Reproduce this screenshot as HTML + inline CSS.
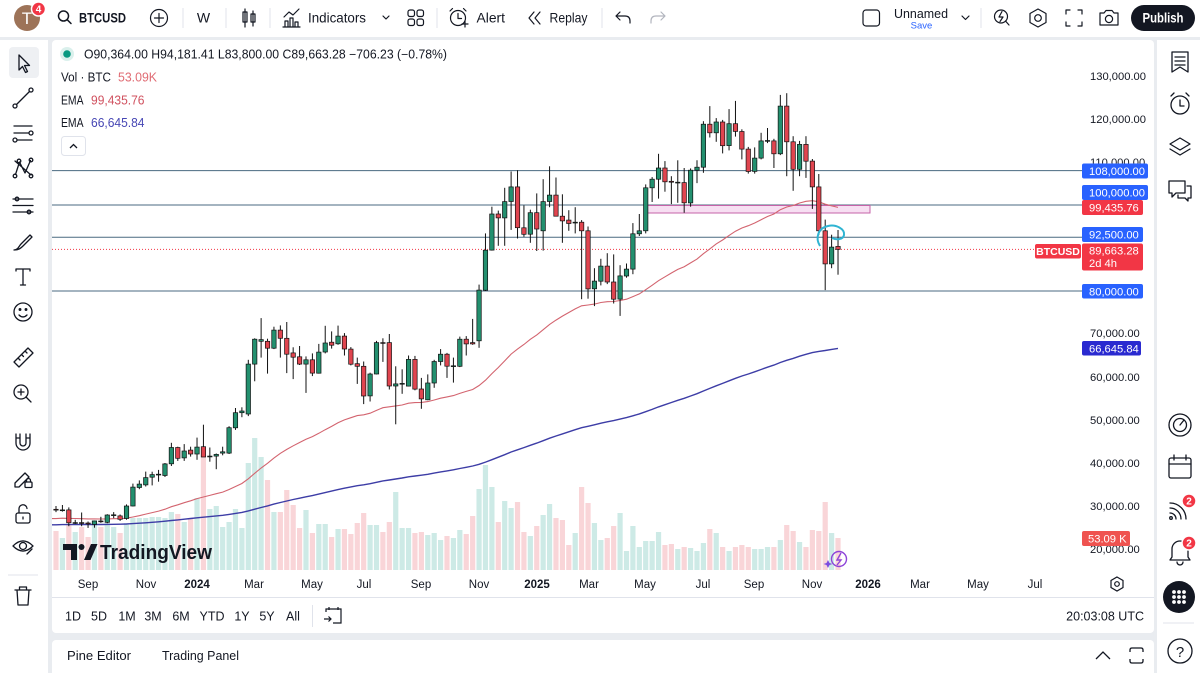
<!DOCTYPE html>
<html><head><meta charset="utf-8">
<style>
html,body{margin:0;padding:0;width:1200px;height:673px;overflow:hidden;background:#e9ecf0;}
svg{display:block;font-family:"Liberation Sans",sans-serif;}
</style></head><body>
<svg id="s" width="1200" height="673" viewBox="0 0 1200 673" xmlns="http://www.w3.org/2000/svg">
<rect width="1200" height="673" fill="#e9ecf0"/>
<rect x="0" y="0" width="1200" height="37" fill="#fff"/>
<rect x="0" y="40" width="48" height="633" fill="#fff"/>
<rect x="52" y="40" width="1102" height="593" rx="4" fill="#fff"/>
<rect x="52" y="640" width="1102" height="40" rx="4" fill="#fff"/>
<rect x="1157" y="40" width="43" height="633" fill="#fff"/>

<!-- volume -->
<g id="vol"></g>

<!-- TradingView logo -->
<g fill="#131722">
<path d="M63 544 H77 V560 H71 V550 H63 Z"/>
<circle cx="81.5" cy="547" r="3"/>
<path d="M84 560 L91 544 H97.5 L90.5 560 Z"/>
<text x="100" y="559" font-size="20" font-weight="bold" textLength="112" lengthAdjust="spacingAndGlyphs">TradingView</text>
</g>

<!-- horizontal levels -->
<g stroke="#4a6a80" stroke-width="1">
<line x1="52" y1="170.6" x2="1082" y2="170.6"/>
<line x1="52" y1="205" x2="1082" y2="205"/>
<line x1="52" y1="237.3" x2="1082" y2="237.3"/>
<line x1="52" y1="291" x2="1082" y2="291"/>
</g>
<rect x="647.5" y="205.5" width="222.5" height="7.5" fill="rgba(225,140,210,0.28)" stroke="#c663a8" stroke-width="1"/>
<line x1="52" y1="249.4" x2="1035" y2="249.4" stroke="#f23645" stroke-width="1" stroke-dasharray="1,2"/>

<!-- EMA -->
<path id="e200" fill="none" stroke="#3d3da6" stroke-width="1.4"/>
<path id="e50" fill="none" stroke="#d3646f" stroke-width="1.1"/>

<!-- candles -->
<g id="wk" stroke="#111" stroke-width="1"></g>
<g id="bd" stroke="#111" stroke-width="0.7"></g>

<!-- cyan drawing -->
<path d="M820 246 C815 238 818 228 828 226 C836 224 845 229 844 235 C843 240 836 240 832 238" fill="none" stroke="#2fb4d2" stroke-width="2"/>

<!-- purple lightning -->
<g fill="none" stroke="#8e44d8" stroke-width="1.4">
<circle cx="839" cy="559" r="7.5"/>
<path d="M841 553 L837 560 H841 L837 565" />
</g>
<path d="M828 560 L829.5 563 L832.5 564 L829.5 565 L828 568 L826.5 565 L823.5 564 L826.5 563 Z" fill="#7c4de0"/>

<!-- legend -->
<circle cx="67" cy="54" r="7" fill="rgba(8,153,129,0.15)"/>
<circle cx="67" cy="54" r="3.8" fill="#089981"/>
<text x="84" y="58.5" font-size="12.5" fill="#131722" textLength="363" lengthAdjust="spacingAndGlyphs">O90,364.00 H94,181.41 L83,800.00 C89,663.28 −706.23 (−0.78%)</text>
<text x="61" y="81.5" font-size="12.5" fill="#131722" textLength="50" lengthAdjust="spacingAndGlyphs">Vol · BTC</text>
<text x="118" y="81.5" font-size="12.5" fill="#e06c74" textLength="39" lengthAdjust="spacingAndGlyphs">53.09K</text>
<text x="61" y="104.5" font-size="12.5" fill="#131722" textLength="22.5" lengthAdjust="spacingAndGlyphs">EMA</text>
<text x="91" y="104.5" font-size="12.5" fill="#d0505e" textLength="53.5" lengthAdjust="spacingAndGlyphs">99,435.76</text>
<text x="61" y="127" font-size="12.5" fill="#131722" textLength="22.5" lengthAdjust="spacingAndGlyphs">EMA</text>
<text x="91" y="127" font-size="12.5" fill="#4646b4" textLength="53.5" lengthAdjust="spacingAndGlyphs">66,645.84</text>
<rect x="61.5" y="136.5" width="24" height="19" rx="3" fill="#fff" stroke="#e0e3eb"/>
<path d="M70 148 L73.5 144.5 L77 148" fill="none" stroke="#131722" stroke-width="1.3"/>

<!-- price axis -->
<g font-size="11.2" fill="#131722">
<text x="1090" y="80">130,000.00</text>
<text x="1090" y="123">120,000.00</text>
<text x="1090" y="166">110,000.00</text>
<text x="1090" y="337">70,000.00</text>
<text x="1090" y="381">60,000.00</text>
<text x="1090" y="424">50,000.00</text>
<text x="1090" y="467">40,000.00</text>
<text x="1090" y="510">30,000.00</text>
<text x="1090" y="553">20,000.00</text>
</g>
<g font-size="11.2" fill="#fff">
<rect x="1082" y="163.5" width="66" height="15" rx="2" fill="#2962ff"/><text x="1089" y="175">108,000.00</text>
<rect x="1082" y="185" width="66" height="15" rx="2" fill="#2962ff"/><text x="1089" y="196.5">100,000.00</text>
<rect x="1082" y="200" width="61" height="15" rx="2" fill="#f23645"/><text x="1089" y="211.5">99,435.76</text>
<rect x="1082" y="227" width="61" height="15" rx="2" fill="#2962ff"/><text x="1089" y="238.5">92,500.00</text>
<rect x="1082" y="243.5" width="61" height="27" rx="2" fill="#f23645"/><text x="1089" y="254.5">89,663.28</text><text x="1089" y="267">2d 4h</text>
<rect x="1082" y="284" width="61" height="14.5" rx="2" fill="#2962ff"/><text x="1089" y="295.5">80,000.00</text>
<rect x="1082" y="341" width="59" height="14.5" rx="2" fill="#2a2ad0"/><text x="1089" y="352.5">66,645.84</text>
<rect x="1082" y="531" width="48" height="15" rx="2" fill="#ef5350"/><text x="1088" y="542.5">53.09 K</text>
<rect x="1035" y="244" width="46" height="14.5" rx="2" fill="#f23645"/><text x="1058" y="255" text-anchor="middle" font-size="10.5" font-weight="bold">BTCUSD</text>
</g>

<!-- time axis -->
<g font-size="11.5" fill="#131722" text-anchor="middle">
<text x="88" y="588">Sep</text><text x="146" y="588">Nov</text><text x="197" y="588" font-weight="bold">2024</text>
<text x="254" y="588">Mar</text><text x="312" y="588">May</text><text x="364" y="588">Jul</text>
<text x="421" y="588">Sep</text><text x="479" y="588">Nov</text><text x="537" y="588" font-weight="bold">2025</text>
<text x="589" y="588">Mar</text><text x="645" y="588">May</text><text x="703" y="588">Jul</text>
<text x="754" y="588">Sep</text><text x="812" y="588">Nov</text><text x="868" y="588" font-weight="bold">2026</text>
<text x="920" y="588">Mar</text><text x="978" y="588">May</text><text x="1035" y="588">Jul</text>
</g>
<g fill="none" stroke="#131722" stroke-width="1.2">
<path d="M1117 577 L1123 580.5 V587.5 L1117 591 L1111 587.5 V580.5 Z"/><circle cx="1117" cy="584" r="2.3"/>
</g>
<line x1="52" y1="597.5" x2="1154" y2="597.5" stroke="#e0e3eb"/>

<!-- range bar -->
<g font-size="12.5" fill="#131722" text-anchor="middle">
<text x="73" y="620.5">1D</text><text x="99" y="620.5">5D</text><text x="127" y="620.5">1M</text><text x="153" y="620.5">3M</text>
<text x="181" y="620.5">6M</text><text x="212" y="620.5">YTD</text><text x="242" y="620.5">1Y</text><text x="267" y="620.5">5Y</text><text x="293" y="620.5">All</text>
</g>
<line x1="312.5" y1="605" x2="312.5" y2="627" stroke="#e0e3eb"/>
<g fill="none" stroke="#131722" stroke-width="1.2">
<path d="M326 612 V609 H341 V623 H333 M329 607 V610 M338 607 V610 M324 619 H331 M328.5 616.5 L331 619 L328.5 621.5"/>
</g>
<text x="1144" y="620.5" font-size="12.5" fill="#131722" text-anchor="end">20:03:08 UTC</text>

<!-- pine bar -->
<text x="67" y="660" font-size="13" fill="#131722" textLength="64" lengthAdjust="spacingAndGlyphs">Pine Editor</text>
<text x="162" y="660" font-size="13" fill="#131722" textLength="77" lengthAdjust="spacingAndGlyphs">Trading Panel</text>
<g fill="none" stroke="#131722" stroke-width="1.3">
<path d="M1096 659 L1103 652 L1110 659"/>
<path d="M1130 652 V650 Q1130 648 1132 648 H1141 Q1143 648 1143 650 V652 M1130 659 V661 Q1130 663 1132 663 H1141 Q1143 663 1143 661 V659"/>
</g>

<!-- top bar -->
<circle cx="27" cy="18" r="13" fill="#9d7358"/>
<text x="27" y="24" font-size="17" fill="#fff" text-anchor="middle">T</text>
<circle cx="38.5" cy="9" r="7" fill="#f23645" stroke="#fff" stroke-width="1.5"/>
<text x="38.5" y="12.5" font-size="10" font-weight="bold" fill="#fff" text-anchor="middle">4</text>
<g fill="none" stroke="#131722" stroke-width="1.5" stroke-linecap="round" stroke-linejoin="round">
<circle cx="63.5" cy="16" r="5"/><path d="M67.3 19.8 L71 23.5"/>
<circle cx="159" cy="18" r="8.5" stroke-width="1.2"/><path d="M159 13.5 V22.5 M154.5 18 H163.5" stroke-width="1.2"/>
<path d="M245 9 V27 M253 11 V26" stroke-width="1.2"/>
<rect x="243" y="12" width="4" height="10" stroke-width="1.2"/><rect x="251" y="14" width="4" height="8" stroke-width="1.2"/>
<path d="M284 17 L289 12 L293 15 L299 9" stroke-width="1.2"/>
<path d="M285 27 V21 H288 V27 M290 27 V18 H293 V27 M295 27 V22 H298 V27 M283 27 H300" stroke-width="1.2"/>
<path d="M383 16 L386 19 L389 16" stroke-width="1.2"/>
<rect x="408" y="10" width="6.5" height="6.5" rx="2" stroke-width="1.2"/><rect x="417" y="10" width="6.5" height="6.5" rx="2" stroke-width="1.2"/>
<rect x="408" y="19" width="6.5" height="6.5" rx="2" stroke-width="1.2"/><rect x="417" y="19" width="6.5" height="6.5" rx="2" stroke-width="1.2"/>
<circle cx="458" cy="18" r="7.5" stroke-width="1.2"/><path d="M458 13.5 V18.5 H461.5 M450 11 L452.5 8.5 M466 11 L463.5 8.5 M462 24 H468 M465 21 V27" stroke-width="1.2"/>
<path d="M534 12 L529 18 L534 24 M540 12 L535 18 L540 24" stroke-width="1.2"/>
<path d="M620 12 L616 16 L620 20 M616 16 H625 Q630 16 630 21 V23" stroke-width="1.2"/>
<path d="M661 12 L665 16 L661 20 M665 16 H656 Q651 16 651 21 V23" stroke="#b2b5be" stroke-width="1.2"/>
<rect x="863" y="10" width="16.5" height="16" rx="3" stroke-width="1.2"/>
<path d="M962 16 L965.5 19.5 L969 16" stroke-width="1.2"/>
<circle cx="1001" cy="16.5" r="6.5" stroke-width="1.2"/><path d="M1005.5 21 L1009 25 M1002 11.5 L999 17 H1003 L1000 21.5" stroke-width="1.2"/>
<path d="M1038 9 L1046 13.5 V22.5 L1038 27 L1030 22.5 V13.5 Z" stroke-width="1.2"/><circle cx="1038" cy="18" r="3.3" stroke-width="1.2"/>
<path d="M1066 14 V10 H1070 M1078 10 H1082 V14 M1082 22 V26 H1078 M1070 26 H1066 V22" stroke-width="1.2"/>
<path d="M1100 13 H1104 L1106 10.5 H1112 L1114 13 H1118 V25 H1100 Z" stroke-width="1.2"/><circle cx="1109" cy="19" r="3.6" stroke-width="1.2"/>
</g>
<g stroke="#e0e3eb"><line x1="183" y1="8" x2="183" y2="28"/><line x1="226" y1="8" x2="226" y2="28"/><line x1="270" y1="8" x2="270" y2="28"/><line x1="437" y1="8" x2="437" y2="28"/><line x1="602" y1="8" x2="602" y2="28"/><line x1="981" y1="8" x2="981" y2="28"/></g>
<text x="79" y="22.5" font-size="14" font-weight="bold" fill="#131722" textLength="47" lengthAdjust="spacingAndGlyphs">BTCUSD</text>
<text x="203.5" y="22.5" font-size="14" fill="#131722" text-anchor="middle">W</text>
<text x="308" y="22.5" font-size="14" fill="#131722" textLength="58" lengthAdjust="spacingAndGlyphs">Indicators</text>
<text x="476.5" y="22.5" font-size="14" fill="#131722" textLength="28.5" lengthAdjust="spacingAndGlyphs">Alert</text>
<text x="549.5" y="22.5" font-size="14" fill="#131722" textLength="38" lengthAdjust="spacingAndGlyphs">Replay</text>
<text x="894" y="18" font-size="13" fill="#131722" textLength="54" lengthAdjust="spacingAndGlyphs">Unnamed</text>
<text x="921.5" y="28.5" font-size="9.5" fill="#2962ff" text-anchor="middle">Save</text>
<rect x="1131" y="5" width="64" height="26" rx="13" fill="#131722"/>
<text x="1163" y="22.5" font-size="14" font-weight="bold" fill="#fff" text-anchor="middle" textLength="41" lengthAdjust="spacingAndGlyphs">Publish</text>

<!-- left toolbar -->
<rect x="9" y="47" width="30" height="31" rx="4" fill="#eef0f3"/>
<g fill="none" stroke="#131722" stroke-width="1.3" stroke-linecap="round" stroke-linejoin="round">
<path d="M19 55 V70 L22.5 66.5 L25.5 72.5 L27.5 71.5 L24.5 65.5 H29.5 Z"/>
<path d="M16.5 104.5 L29.5 91.5"/><circle cx="15" cy="106" r="2"/><circle cx="31" cy="90" r="2"/>
<path d="M14 126 H32 M14 133 H29 M17 140 H32"/><circle cx="31" cy="133" r="2"/><circle cx="15" cy="140" r="2"/>
<path d="M15.5 174.5 L19.5 162 L25 173 L30.5 160.5 M15 161 L31 175"/><circle cx="15" cy="176" r="1.8"/><circle cx="19" cy="161" r="1.8"/><circle cx="31" cy="160" r="1.8"/><circle cx="31" cy="176" r="1.8"/>
<path d="M13 199 H33 M13 205.5 H33 M13 212 H33"/><circle cx="17" cy="199" r="1.8"/><circle cx="29" cy="212" r="1.8"/>
<path d="M14 250 C18 250 19 246 21 244 L30 235 L32 237 L23 246 C21 248 19 250 14 250 Z"/>
<path d="M16 269 H30 M23 269 V285 M16 269 V271 M30 269 V271 M20.5 285 H25.5"/>
<circle cx="23" cy="312" r="9"/><path d="M19 315 Q23 319 27 315"/><circle cx="20" cy="309.5" r="0.8" fill="#131722"/><circle cx="26" cy="309.5" r="0.8" fill="#131722"/>
<path d="M14 362 L28 348 L33 353 L19 367 Z M18 358 L20 360 M21.5 354.5 L23.5 356.5 M25 351 L27 353"/>
<circle cx="21" cy="392" r="7"/><path d="M26 397 L31 402 M18 392 H24 M21 389 V395"/>
<path d="M16 434 V443 A7 7 0 0 0 30 443 V434 M16 438 H20 M26 438 H30 M20 434 V443 A3 3 0 0 0 26 443 V434"/>
<path d="M15 487 V483 L25 473 L29 477 L19 487 Z"/><rect x="25" y="482" width="7" height="5.5" rx="1"/><path d="M26.5 482 V480.5 A2 2 0 0 1 30.5 480.5 V482"/>
<rect x="16" y="513" width="14" height="10" rx="2"/><path d="M19 513 V509 A4 4 0 0 1 27 508.5 M23 517 V519"/>
<path d="M13 546 Q23 536 33 546 Q23 556 13 546 Z"/><circle cx="23" cy="546" r="3.5"/><path d="M27 554 L32 549"/>
<path d="M15 590 H31 M19.5 590 V587 H26.5 V590 M17 590 L18 605 H28 L29 590"/>
</g>
<line x1="8" y1="575" x2="38" y2="575" stroke="#e0e3eb"/>

<!-- right sidebar -->
<g fill="none" stroke="#131722" stroke-width="1.3" stroke-linecap="round" stroke-linejoin="round">
<path d="M1172 52 H1188 V72 L1180 67 L1172 72 Z M1175 57 H1185 M1175 61 H1185 M1175 65 H1185"/>
<circle cx="1180" cy="105" r="9"/><path d="M1180 100 V106 H1184 M1171 96 L1174 93 M1189 96 L1186 93"/>
<path d="M1180 138 L1190 144 L1180 150 L1170 144 Z M1170 149 L1180 155 L1190 149"/>
<path d="M1169 181 H1185 V193 H1176 L1172 197 V193 H1169 Z M1187 186 H1191 V198 H1188 V201 L1185 198 H1178 V195"/>
<circle cx="1180" cy="425" r="11"/><circle cx="1180" cy="425" r="6.5"/><path d="M1180 425 L1184 420"/>
<rect x="1169" y="458" width="22" height="20" rx="2"/><path d="M1169 464 H1191 M1174 455 V460 M1186 455 V460"/>
<path d="M1170 503 A16 16 0 0 1 1186 519 M1170 508 A11 11 0 0 1 1181 519 M1170 513 A6 6 0 0 1 1176 519"/><circle cx="1171" cy="518" r="1.3"/>
<path d="M1172 557 V549 A8 8 0 0 1 1188 549 V557 L1190 560 H1170 Z M1177 562 A3 3 0 0 0 1183 562"/>
<circle cx="1180" cy="651" r="12"/>
</g>
<text x="1180" y="657" font-size="15" fill="#131722" text-anchor="middle">?</text>
<circle cx="1189" cy="501" r="7" fill="#f23645" stroke="#fff" stroke-width="1.5"/><text x="1189" y="504.5" font-size="10" font-weight="bold" fill="#fff" text-anchor="middle">2</text>
<circle cx="1189" cy="543" r="7" fill="#f23645" stroke="#fff" stroke-width="1.5"/><text x="1189" y="546.5" font-size="10" font-weight="bold" fill="#fff" text-anchor="middle">2</text>
<circle cx="1179" cy="597" r="16" fill="#131722"/>
<g fill="#fff">
<circle cx="1174" cy="592" r="1.9"/><circle cx="1179" cy="592" r="1.9"/><circle cx="1184" cy="592" r="1.9"/>
<circle cx="1174" cy="597" r="1.9"/><circle cx="1179" cy="597" r="1.9"/><circle cx="1184" cy="597" r="1.9"/>
<circle cx="1174" cy="602" r="1.9"/><circle cx="1179" cy="602" r="1.9"/><circle cx="1184" cy="602" r="1.9"/>
</g>
<line x1="1163" y1="623" x2="1194" y2="623" stroke="#e0e3eb"/>
</svg>
<script>
const D=[
[29230,29990,28580,29050],[29050,30240,28700,29100],[29100,29680,25300,26100],[26100,26800,25800,26150],[26150,28500,25300,26050],
[26050,26400,24900,25830],[25700,26550,24950,26500],[26500,27480,26100,26350],[26200,28100,25990,27900],[27900,28580,27160,27950],
[27700,28020,26540,26900],[27100,30380,26820,30000],[30000,35200,29880,34400],[34300,35950,33900,35100],[34900,38000,34540,36600],
[36700,37970,34800,37300],[37300,38400,35650,37400],[37100,40000,36740,39800],[39800,44700,39300,43600],[43600,43800,40500,41100],
[41200,44400,40500,42800],[43000,43800,41500,42100],[42100,45900,40750,43700],[43800,48900,41500,41400],[41500,43600,40300,41600],
[41600,42200,38550,42000],[42300,43800,41800,42600],[42300,48550,42100,48200],[48200,52800,47700,51700],[51700,52950,50650,52100],
[51400,64000,50900,63000],[63000,69000,59000,68800],[68300,73700,64500,68700],[68300,68900,60800,66700],[66700,71700,66500,70900],
[70900,72000,64500,69000],[69000,72800,60900,65300],[65600,66900,59500,64600],[64700,67200,62800,63000],[63000,64800,56300,64000],
[64000,65500,60200,60900],[60900,67700,60800,65800],[65800,71900,65500,67900],[68100,70600,66600,67400],[67700,71950,67500,69500],
[69500,70200,65000,66500],[66500,66950,62700,63000],[63100,64500,58400,62500],[62500,63600,53700,55600],[55600,61000,54300,60700],
[60700,68400,60600,68000],[68000,69000,63500,67900],[68000,70000,57100,57900],[57900,62500,49000,58400],[58400,61800,56100,58500],
[57900,65000,57800,64100],[64100,64900,56900,57200],[57200,59800,52600,54900],[54700,60600,54600,58600],[58600,64000,57500,63600],
[63600,66500,62700,65300],[65300,65600,59800,62500],[62500,64500,58700,62600],[62500,69400,62300,68800],[68800,69500,65000,67700],
[68000,73500,67500,67700],[68400,81500,66800,80200],[80200,93400,80000,89500],[89500,99600,89400,97900],[97900,98700,90500,97000],
[97000,104000,90500,100800],[100800,107800,94200,104200],[104200,108100,92200,94700],[94700,99900,92600,93200],[93200,98900,91200,98200],
[98200,102700,89300,94400],[94000,106000,89400,100800],[100800,109000,99500,102300],[102300,106400,97800,97400],[97400,102500,91200,96300],
[96500,98800,94000,95700],[95900,99500,93400,96000],[96000,96500,78100,94000],[94000,95000,78200,80500],[80500,85300,76500,82300],
[82300,87500,81300,85800],[85800,88800,81600,82100],[82100,88500,77100,78100],[78100,86000,74200,83500],[83500,86400,83100,85100],
[85100,95800,83900,93300],[93300,97900,92800,94000],[94000,104800,93400,104000],[104000,106500,100700,106000],[106000,111900,101500,108600],
[108600,110200,103100,105400],[105500,106700,100200,105300],[105300,110400,100500,105300],[105200,108600,98200,100500],[100500,108500,99600,108100],
[108100,110400,105100,108800],[108800,119500,107500,118800],[118800,123000,115700,116800],[116800,120200,114700,119300],[119300,119800,112000,113800],
[113800,122300,112700,118900],[118900,124200,115900,117100],[117100,117600,110600,113000],[113000,113500,107300,107800],[107800,113400,107300,110900],
[110900,116800,110600,114900],[114900,117900,114400,115000],[114900,115400,108600,111900],[111900,125600,111600,123000],[123000,126000,106700,114700],
[114700,116000,103300,108300],[108300,114900,106700,114100],[114100,116000,106300,110200],[110200,110700,99100,104200],[104200,107200,93000,94000],
[94000,96600,80200,86300],[86300,93100,85300,90200],[90364,94181,83800,89663]];
const VT=[531,538,525,532,527,537,520,527,520,527,533,523,518,518,518,517,517,518,512,514,522,518,498,455,509,506,527,522,509,528,
463,438,457,480,512,512,490,505,528,510,533,524,524,537,529,529,534,523,513,525,525,532,522,492,528,528,533,532,535,533,
540,536,538,530,534,516,489,465,487,522,501,508,502,532,536,526,515,504,518,520,545,533,487,503,523,540,538,526,513,551,
526,547,541,541,532,545,544,549,547,548,551,543,529,533,547,551,547,545,547,549,549,547,547,540,525,531,542,547,530,531,
502,533,538];
const X=i=>56+6.41*i, Y=p=>76+(130000-p)*0.0043;
let v='',w='',b='';
for(let i=0;i<D.length;i++){
 const [o,h,l,c]=D[i], x=X(i), up=c>=o;
 v+=`<rect x="${(x-2.6).toFixed(2)}" y="${VT[i]}" width="5.2" height="${570-VT[i]}" fill="${up?'#cdeae6':'#f9d5d8'}"/>`;
 const yt=Y(Math.max(o,c)), yb=Y(Math.min(o,c));
 w+=`<line x1="${x.toFixed(2)}" y1="${Y(h).toFixed(1)}" x2="${x.toFixed(2)}" y2="${Y(l).toFixed(1)}"/>`;
 b+=`<rect x="${(x-2.2).toFixed(2)}" y="${yt.toFixed(1)}" width="4.4" height="${Math.max(yb-yt,0.8).toFixed(1)}" fill="${up?'#23906f':'#e0454f'}"/>`;
}
document.getElementById('vol').innerHTML=v;
document.getElementById('wk').innerHTML=w;
document.getElementById('bd').innerHTML=b;
function ema(n,seed,target){const a=2/(n+1);let e=seed;const r=D.map(d=>(e=e+a*(d[3]-e)));const L=r.length-1,diff=target-r[L];return r.map((x,i)=>x+diff*i/L);}
function pth(r){let s=`M52 ${Y(r[0]).toFixed(1)}`;r.forEach((x,i)=>s+=` L${X(i).toFixed(1)} ${Y(x).toFixed(1)}`);return s;}
document.getElementById('e50').setAttribute('d',pth(ema(50,27000,99435.76)));
document.getElementById('e200').setAttribute('d',pth(ema(200,25600,66645.84)));
</script>
</body></html>
